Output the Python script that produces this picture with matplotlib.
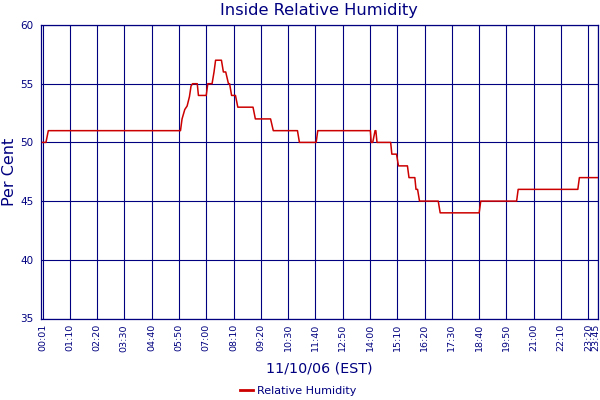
import matplotlib
matplotlib.use("Agg")
import matplotlib.pyplot as plt
import matplotlib.transforms as mtransforms

# Data (minutes since midnight, relative humidity %)
times = [0, 9, 12, 15, 354, 358, 365, 371, 377, 381, 385, 397, 400, 420, 424, 435,
         440, 444, 459, 464, 470, 477, 480, 485, 495, 501, 540, 546, 585, 592, 654,
         659, 702, 706, 841, 843, 847, 850, 853, 855, 858, 893, 896, 908, 913, 936,
         940, 955, 958, 962, 967, 1015, 1020, 1120, 1124, 1216, 1220, 1373, 1377, 1425]
humidity = [50, 50, 50.5, 51, 51, 52, 52.8, 53.1, 53.9, 54.8, 55, 55, 54, 54, 55, 55,
            56, 57, 57, 56, 56, 55, 55, 54, 54, 53, 53, 52, 52, 51, 51,
            50, 50, 51, 51, 50, 50, 50.5, 51, 51, 50, 50, 49, 49, 48, 48,
            47, 47, 46, 46, 45, 45, 44, 44, 45, 45, 46, 46, 47, 47]

tick_labels = ["00:01", "01:10", "02:20", "03:30", "04:40", "05:50", "07:00", "08:10",
               "09:20", "10:30", "11:40", "12:50", "14:00", "15:10", "16:20", "17:30",
               "18:40", "19:50", "21:00", "22:10", "23:20", "23:45"]
y_ticks = [35, 40, 45, 50, 55, 60]

title = "Inside Relative Humidity"
x_title = "11/10/06 (EST)"
y_title = "Per Cent"
series_name = "Relative Humidity"

navy = "#000080"
red = "#CC0000"

plt.rcParams['font.family'] = ['DejaVu Sans']

fig = plt.figure(figsize=(6, 4), dpi=100)
W, H = 600, 400
left, right, top, bottom = 40.7, 598.3, 25, 318.5
ax = fig.add_axes([left / W, 1 - bottom / H, (right - left) / W, (bottom - top) / H])

tick_pos = [int(s[:2]) * 60 + int(s[3:]) for s in tick_labels]

ax.plot(times, humidity, color=red, linewidth=1.1, label=series_name, zorder=3)

ax.set_xlim(-4.5, 1425.5)
ax.set_ylim(35, 60)
ax.set_xticks(tick_pos)
ax.set_xticklabels(tick_labels, rotation=90, fontsize=6.8, color=navy)
ax.set_yticks(y_ticks)
ax.set_yticklabels([str(v) for v in y_ticks], fontsize=7.5, color=navy)
ax.tick_params(axis='both', length=0)
ax.tick_params(axis='x', pad=4)
ax.tick_params(axis='y', pad=5)

# keep last tick label inside the canvas
last = ax.get_xticklabels()[-1]
last.set_transform(last.get_transform() +
                   mtransforms.ScaledTranslation(-2 / 100, 0, fig.dpi_scale_trans))

ax.grid(True, color=navy, linewidth=0.8)
ax.set_axisbelow(True)
for sp in ax.spines.values():
    sp.set_color(navy)
    sp.set_linewidth(0.9)

fig.text(319 / W, 1 - 10.5 / H, title, ha='center', va='center', fontsize=11.7, color=navy)
fig.text(10 / W, 1 - 171.5 / H, y_title, ha='center', va='center', rotation=90,
         fontsize=11.5, color=navy)
fig.text(319 / W, 1 - 368 / H, x_title, ha='center', va='center', fontsize=10.3, color=navy)

leg = fig.legend(loc='center', bbox_to_anchor=(298.5 / W, 1 - 391 / H), frameon=False,
                 fontsize=8, handlelength=1.1, handletextpad=0.4, labelcolor=navy)
for line in leg.get_lines():
    line.set_linewidth(2.0)

fig.savefig("out.png", dpi=100)
